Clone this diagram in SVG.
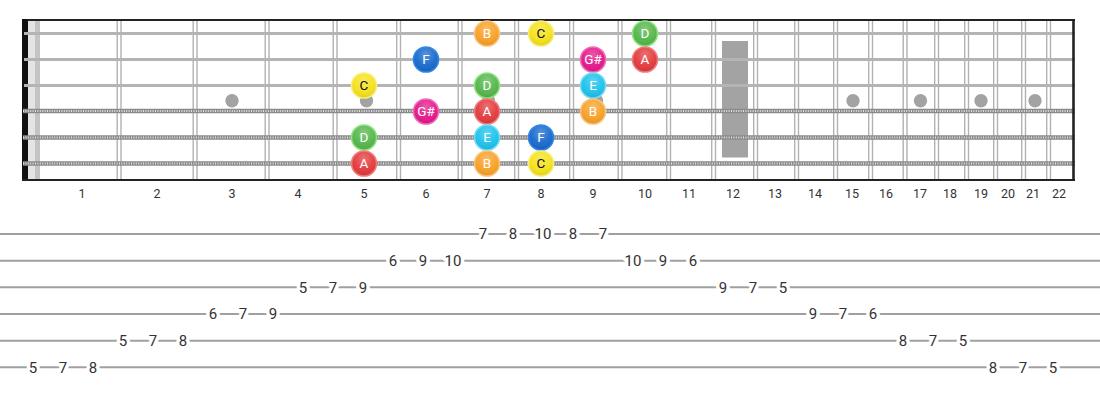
<svg xmlns="http://www.w3.org/2000/svg" width="1100" height="400" viewBox="0 0 1100 400">
<style>
.fret{stroke:#b2b2b2;stroke-width:1.4;fill:none}
.plain{stroke:#b4b4b4;stroke-width:3.2}
.wbase{stroke:#8a8a8a;stroke-width:4.4}
.wtop{stroke:#e2e2e2;stroke-width:2.2;stroke-dasharray:1 1.4}
.inlay{fill:#a3a3a3}
.fnum{font-family:Roboto,"Liberation Sans",sans-serif;font-size:12.5px;fill:#333;text-anchor:middle}
.tabl{stroke:#a0a0a0;stroke-width:2}
.tab{font-family:Roboto,"Liberation Sans",sans-serif;font-size:15px;fill:#333;text-anchor:middle;stroke:#fff;stroke-width:7;paint-order:stroke;stroke-linejoin:round}
.nl{font-family:Roboto,"Liberation Sans",sans-serif;font-size:13.5px;text-anchor:middle;fill:#fff}
.dk{fill:#111}
.ring{stroke-width:1.6}
</style>
<defs>
<radialGradient id="gloss" cx="0.5" cy="0.3" r="0.7">
<stop offset="0" stop-color="#fff" stop-opacity="0.28"/>
<stop offset="0.6" stop-color="#fff" stop-opacity="0.05"/>
<stop offset="1" stop-color="#000" stop-opacity="0.08"/>
</radialGradient>
</defs>
<rect width="1100" height="400" fill="#fff"/>
<g id="fretboard">
<rect x="28" y="20" width="12" height="160" fill="#e4e4e4"/>
<rect x="35" y="20" width="5" height="160" fill="#c4c4c4"/>
<rect x="22" y="19" width="6" height="162" fill="#111"/>
<g id="frets">
<g class="fret">
<path d="M117.2 20V180M121 20V180"/>
<path d="M193.2 20V180M197 20V180"/>
<path d="M265.2 20V180M269 20V180"/>
<path d="M333.2 20V180M337 20V180"/>
<path d="M396.7 20V180M400.5 20V180"/>
<path d="M458.2 20V180M462 20V180"/>
<path d="M514.7 20V180M518.5 20V180"/>
<path d="M569.7 20V180M573.5 20V180"/>
<path d="M618.2 20V180M622 20V180"/>
<path d="M666.7 20V180M670.5 20V180"/>
<path d="M711.7 20V180M715.5 20V180"/>
<path d="M753.7 20V180M757.5 20V180"/>
<path d="M794.7 20V180M798.5 20V180"/>
<path d="M833.7 20V180M837.5 20V180"/>
<path d="M868.7 20V180M872.5 20V180"/>
<path d="M903.2 20V180M907 20V180"/>
<path d="M934.7 20V180M938.5 20V180"/>
<path d="M964.7 20V180M968.5 20V180"/>
<path d="M993.7 20V180M997.5 20V180"/>
<path d="M1021.7 20V180M1025.5 20V180"/>
<path d="M1046.7 20V180M1050.5 20V180"/>
</g>
</g>
<g id="inlays">
<circle class="inlay" cx="232" cy="100.7" r="6.7"/>
<circle class="inlay" cx="366.5" cy="100.7" r="6.7"/>
<circle class="inlay" cx="488.5" cy="100.7" r="6.7"/>
<circle class="inlay" cx="596.5" cy="100.7" r="6.7"/>
<rect class="inlay" x="722" y="41" width="26" height="116.5"/>
<circle class="inlay" cx="853" cy="100.7" r="6.7"/>
<circle class="inlay" cx="920.5" cy="100.7" r="6.7"/>
<circle class="inlay" cx="981" cy="100.7" r="6.7"/>
<circle class="inlay" cx="1035" cy="100.7" r="6.7"/>
</g>
<g id="strings">
<line class="plain" x1="24" y1="33.5" x2="1075" y2="33.5"/>
<line class="plain" x1="24" y1="59.5" x2="1075" y2="59.5"/>
<line class="plain" x1="24" y1="85.5" x2="1075" y2="85.5"/>
<line class="wbase" x1="23" y1="111" x2="1075" y2="111"/>
<line class="wtop" x1="23" y1="111" x2="1075" y2="111"/>
<line class="wbase" x1="23" y1="137.5" x2="1075" y2="137.5"/>
<line class="wtop" x1="23" y1="137.5" x2="1075" y2="137.5"/>
<line class="wbase" x1="23" y1="163.5" x2="1075" y2="163.5"/>
<line class="wtop" x1="23" y1="163.5" x2="1075" y2="163.5"/>
</g>
<line x1="27" y1="20" x2="1075" y2="20" stroke="#222" stroke-width="2"/>
<line x1="22" y1="180" x2="1075" y2="180" stroke="#222" stroke-width="2"/>
<line x1="1073.5" y1="19" x2="1073.5" y2="181" stroke="#222" stroke-width="2.6"/>
</g>
<g id="fret-numbers">
<text class="fnum" x="82" y="198">1</text>
<text class="fnum" x="157" y="198">2</text>
<text class="fnum" x="232" y="198">3</text>
<text class="fnum" x="298" y="198">4</text>
<text class="fnum" x="364" y="198">5</text>
<text class="fnum" x="426" y="198">6</text>
<text class="fnum" x="487" y="198">7</text>
<text class="fnum" x="541" y="198">8</text>
<text class="fnum" x="593" y="198">9</text>
<text class="fnum" x="645" y="198">10</text>
<text class="fnum" x="689" y="198">11</text>
<text class="fnum" x="733" y="198">12</text>
<text class="fnum" x="775" y="198">13</text>
<text class="fnum" x="815" y="198">14</text>
<text class="fnum" x="852" y="198">15</text>
<text class="fnum" x="886" y="198">16</text>
<text class="fnum" x="920" y="198">17</text>
<text class="fnum" x="950" y="198">18</text>
<text class="fnum" x="981" y="198">19</text>
<text class="fnum" x="1008" y="198">20</text>
<text class="fnum" x="1033" y="198">21</text>
<text class="fnum" x="1059" y="198">22</text>
</g>
<g id="notes">
<g id="n-s1-f7"><circle cx="487" cy="33.5" r="12.5" fill="#f8a126" stroke="#fbc47a" class="ring"/><circle cx="487" cy="33.5" r="12" fill="url(#gloss)"/><text class="nl" x="487" y="38.2">B</text></g>
<g id="n-s1-f8"><circle cx="541" cy="33.5" r="12.5" fill="#f5e21c" stroke="#f9ee77" class="ring"/><circle cx="541" cy="33.5" r="12" fill="url(#gloss)"/><text class="nl dk" x="541" y="38.2">C</text></g>
<g id="n-s1-f10"><circle cx="645" cy="33.5" r="12.5" fill="#55b64a" stroke="#8ee47f" class="ring"/><circle cx="645" cy="33.5" r="12" fill="url(#gloss)"/><text class="nl" x="645" y="38.2">D</text></g>
<g id="n-s2-f6"><circle cx="426" cy="59.5" r="12.5" fill="#1769cc" stroke="#2f86e8" class="ring"/><circle cx="426" cy="59.5" r="12" fill="url(#gloss)"/><text class="nl" x="426" y="64.2">F</text></g>
<g id="n-s2-f9"><circle cx="593" cy="59.5" r="12.5" fill="#e5178b" stroke="#f06ab5" class="ring"/><circle cx="593" cy="59.5" r="12" fill="url(#gloss)"/><text class="nl" x="593" y="64.2">G#</text></g>
<g id="n-s2-f10"><circle cx="645" cy="59.5" r="12.5" fill="#e33a3c" stroke="#f07c7c" class="ring"/><circle cx="645" cy="59.5" r="12" fill="url(#gloss)"/><text class="nl" x="645" y="64.2">A</text></g>
<g id="n-s3-f5"><circle cx="364" cy="85.5" r="12.5" fill="#f5e21c" stroke="#f9ee77" class="ring"/><circle cx="364" cy="85.5" r="12" fill="url(#gloss)"/><text class="nl dk" x="364" y="90.2">C</text></g>
<g id="n-s3-f7"><circle cx="487" cy="85.5" r="12.5" fill="#55b64a" stroke="#8ee47f" class="ring"/><circle cx="487" cy="85.5" r="12" fill="url(#gloss)"/><text class="nl" x="487" y="90.2">D</text></g>
<g id="n-s3-f9"><circle cx="593" cy="85.5" r="12.5" fill="#1cc2ec" stroke="#74dcf6" class="ring"/><circle cx="593" cy="85.5" r="12" fill="url(#gloss)"/><text class="nl" x="593" y="90.2">E</text></g>
<g id="n-s4-f6"><circle cx="426" cy="111.5" r="12.5" fill="#e5178b" stroke="#f06ab5" class="ring"/><circle cx="426" cy="111.5" r="12" fill="url(#gloss)"/><text class="nl" x="426" y="116.2">G#</text></g>
<g id="n-s4-f7"><circle cx="487" cy="111.5" r="12.5" fill="#e33a3c" stroke="#f07c7c" class="ring"/><circle cx="487" cy="111.5" r="12" fill="url(#gloss)"/><text class="nl" x="487" y="116.2">A</text></g>
<g id="n-s4-f9"><circle cx="593" cy="111.5" r="12.5" fill="#f8a126" stroke="#fbc47a" class="ring"/><circle cx="593" cy="111.5" r="12" fill="url(#gloss)"/><text class="nl" x="593" y="116.2">B</text></g>
<g id="n-s5-f5"><circle cx="364" cy="137.5" r="12.5" fill="#55b64a" stroke="#8ee47f" class="ring"/><circle cx="364" cy="137.5" r="12" fill="url(#gloss)"/><text class="nl" x="364" y="142.2">D</text></g>
<g id="n-s5-f7"><circle cx="487" cy="137.5" r="12.5" fill="#1cc2ec" stroke="#74dcf6" class="ring"/><circle cx="487" cy="137.5" r="12" fill="url(#gloss)"/><text class="nl" x="487" y="142.2">E</text></g>
<g id="n-s5-f8"><circle cx="541" cy="137.5" r="12.5" fill="#1769cc" stroke="#2f86e8" class="ring"/><circle cx="541" cy="137.5" r="12" fill="url(#gloss)"/><text class="nl" x="541" y="142.2">F</text></g>
<g id="n-s6-f5"><circle cx="364" cy="163.5" r="12.5" fill="#e33a3c" stroke="#f07c7c" class="ring"/><circle cx="364" cy="163.5" r="12" fill="url(#gloss)"/><text class="nl" x="364" y="168.2">A</text></g>
<g id="n-s6-f7"><circle cx="487" cy="163.5" r="12.5" fill="#f8a126" stroke="#fbc47a" class="ring"/><circle cx="487" cy="163.5" r="12" fill="url(#gloss)"/><text class="nl" x="487" y="168.2">B</text></g>
<g id="n-s6-f8"><circle cx="541" cy="163.5" r="12.5" fill="#f5e21c" stroke="#f9ee77" class="ring"/><circle cx="541" cy="163.5" r="12" fill="url(#gloss)"/><text class="nl dk" x="541" y="168.2">C</text></g>
</g>
<g id="tab-lines">
<line class="tabl" x1="0" y1="234" x2="1100" y2="234"/>
<line class="tabl" x1="0" y1="260.7" x2="1100" y2="260.7"/>
<line class="tabl" x1="0" y1="287.3" x2="1100" y2="287.3"/>
<line class="tabl" x1="0" y1="314" x2="1100" y2="314"/>
<line class="tabl" x1="0" y1="340.7" x2="1100" y2="340.7"/>
<line class="tabl" x1="0" y1="367.3" x2="1100" y2="367.3"/>
</g>
<g id="tab-numbers">
<text class="tab" x="33" y="372.6">5</text>
<text class="tab" x="63" y="372.6">7</text>
<text class="tab" x="93" y="372.6">8</text>
<text class="tab" x="123" y="346">5</text>
<text class="tab" x="153" y="346">7</text>
<text class="tab" x="183" y="346">8</text>
<text class="tab" x="213" y="319.3">6</text>
<text class="tab" x="243" y="319.3">7</text>
<text class="tab" x="273" y="319.3">9</text>
<text class="tab" x="303" y="292.6">5</text>
<text class="tab" x="333" y="292.6">7</text>
<text class="tab" x="363" y="292.6">9</text>
<text class="tab" x="393" y="266">6</text>
<text class="tab" x="423" y="266">9</text>
<text class="tab" x="453" y="266">10</text>
<text class="tab" x="483" y="239.3">7</text>
<text class="tab" x="513" y="239.3">8</text>
<text class="tab" x="543" y="239.3">10</text>
<text class="tab" x="573" y="239.3">8</text>
<text class="tab" x="603" y="239.3">7</text>
<text class="tab" x="633" y="266">10</text>
<text class="tab" x="663" y="266">9</text>
<text class="tab" x="693" y="266">6</text>
<text class="tab" x="723" y="292.6">9</text>
<text class="tab" x="753" y="292.6">7</text>
<text class="tab" x="783" y="292.6">5</text>
<text class="tab" x="813" y="319.3">9</text>
<text class="tab" x="843" y="319.3">7</text>
<text class="tab" x="873" y="319.3">6</text>
<text class="tab" x="903" y="346">8</text>
<text class="tab" x="933" y="346">7</text>
<text class="tab" x="963" y="346">5</text>
<text class="tab" x="993" y="372.6">8</text>
<text class="tab" x="1023" y="372.6">7</text>
<text class="tab" x="1053" y="372.6">5</text>
</g>
</svg>
